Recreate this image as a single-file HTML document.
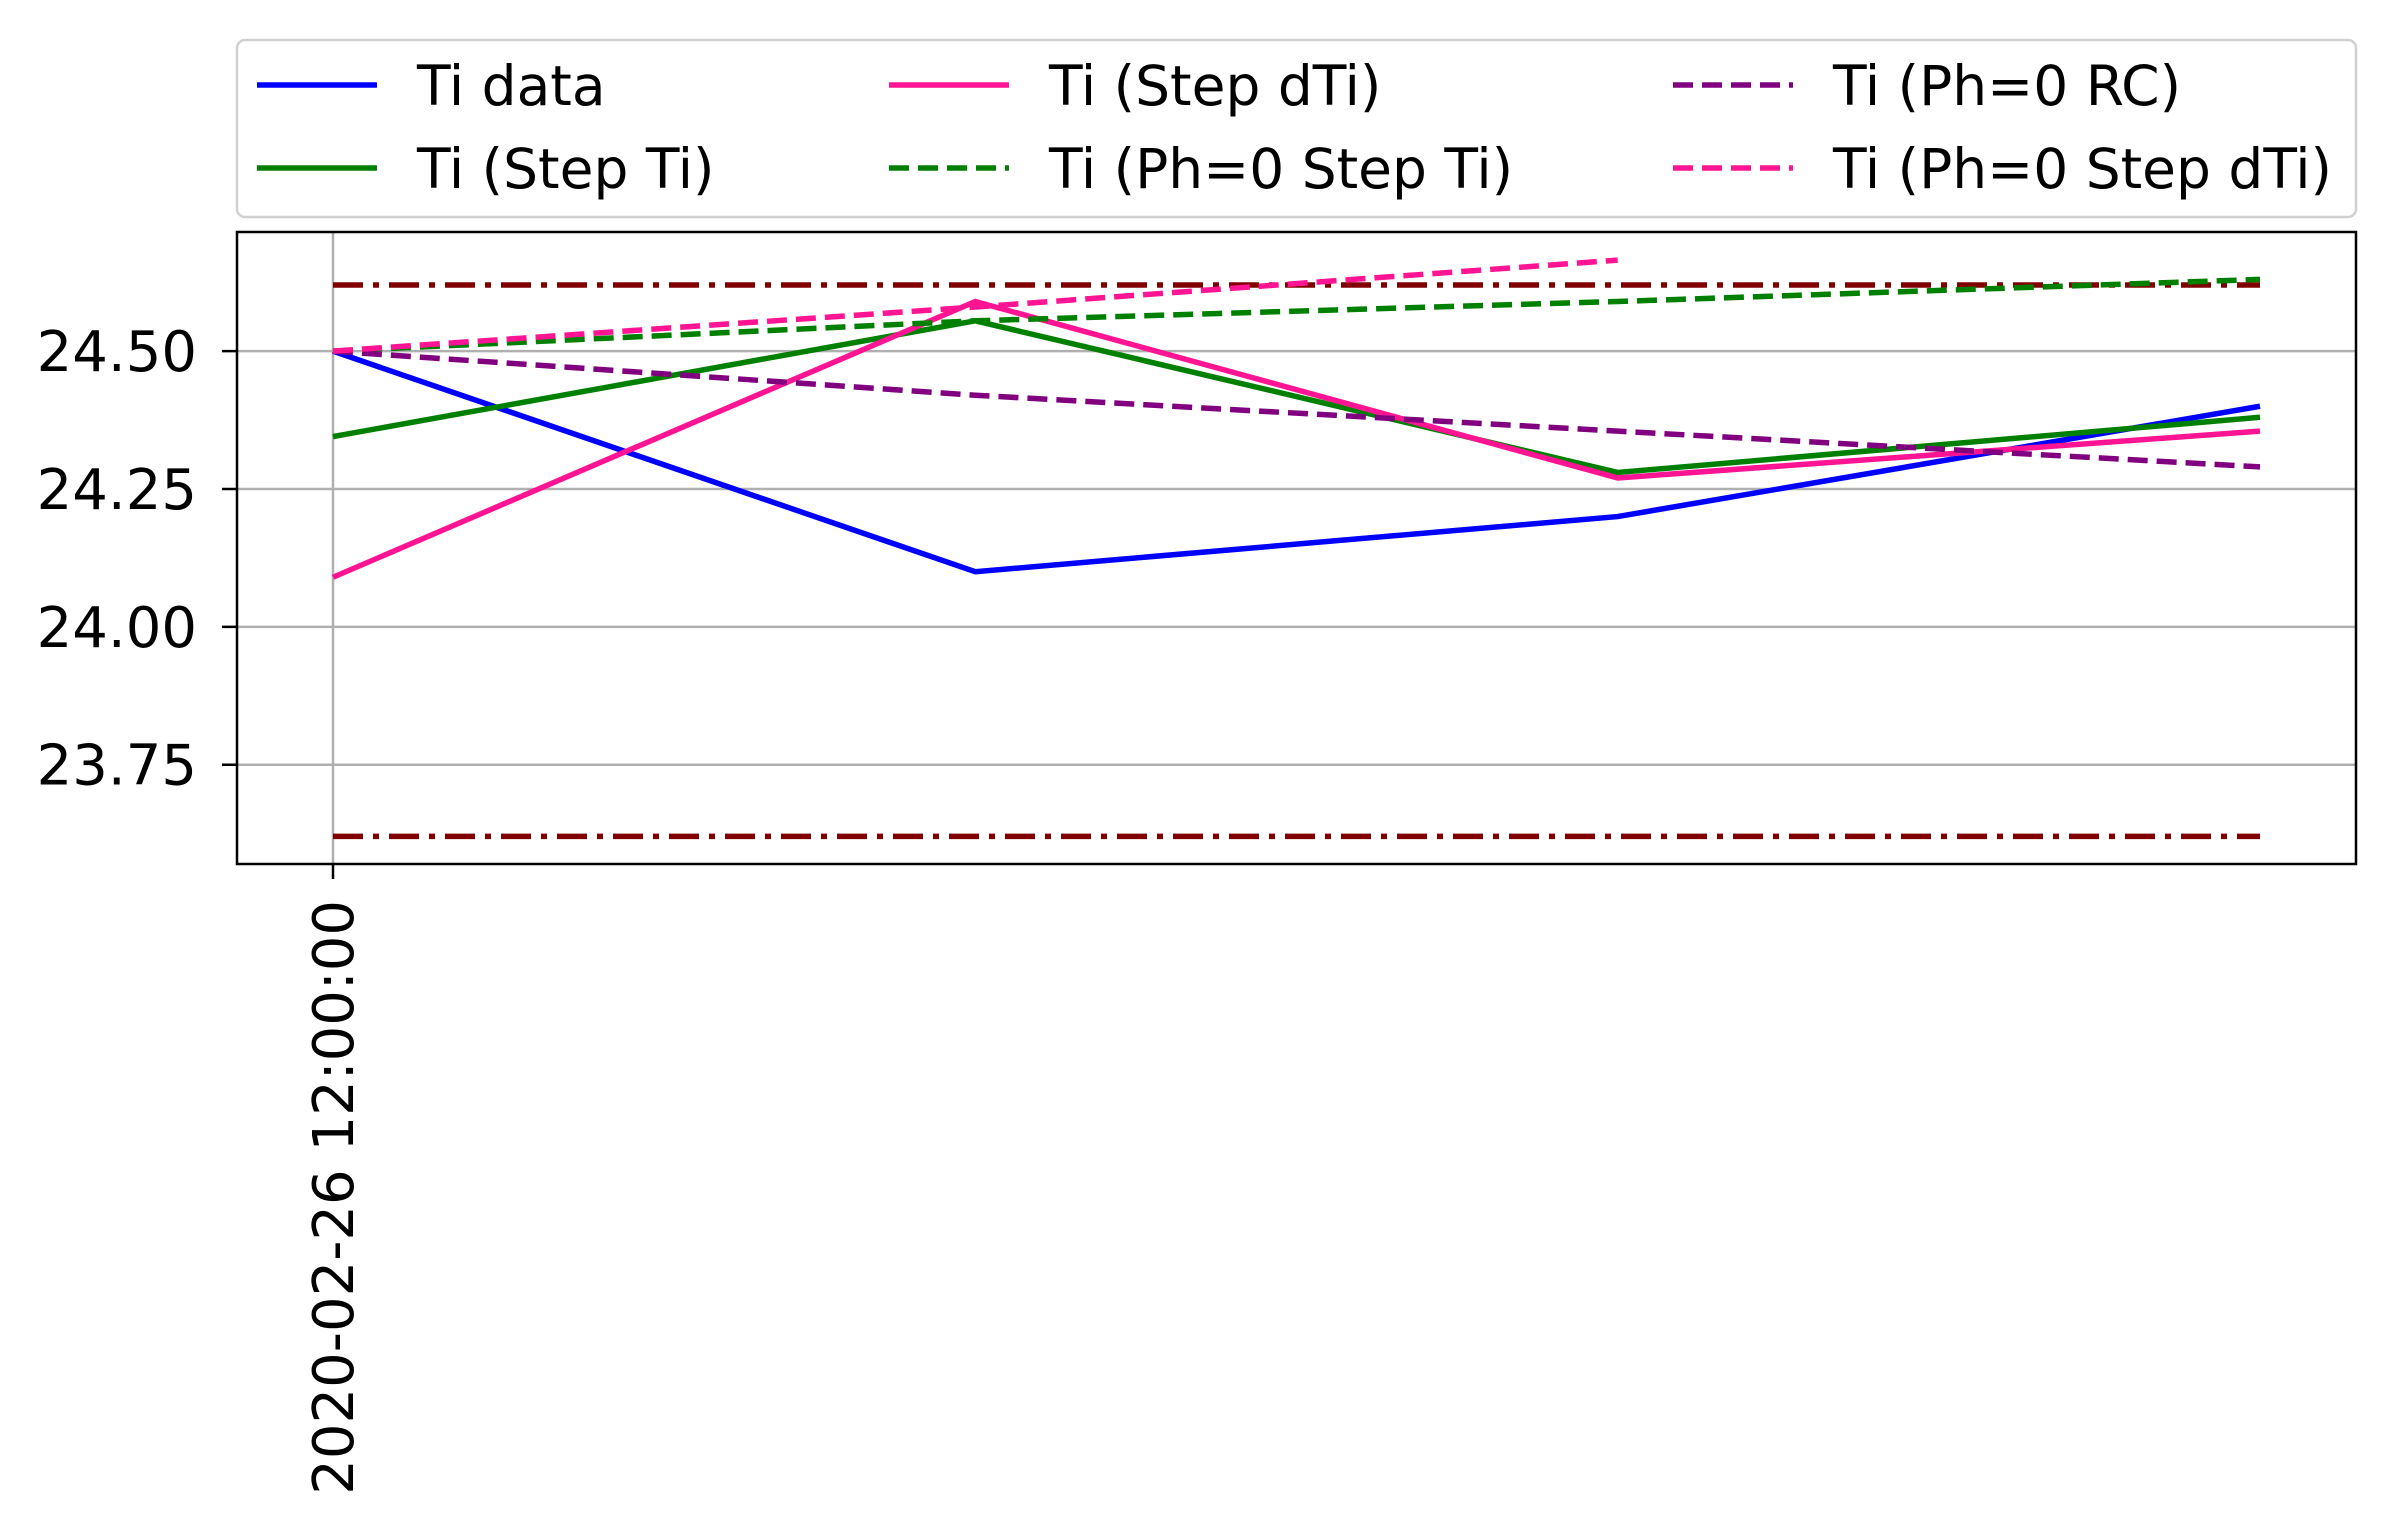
<!DOCTYPE html>
<html><head><meta charset="utf-8"><style>
html,body{margin:0;padding:0;background:#fff;}
svg{display:block;font-family:"DejaVu Sans","Liberation Sans",sans-serif;}
</style></head><body>
<svg id="chart" width="2394" height="1536" viewBox="0 0 2394 1536" xmlns="http://www.w3.org/2000/svg">
<rect width="2394" height="1536" fill="#fff"/>
<g id="grid"></g>
<g id="series"></g>
<rect x="237" y="232" width="2119" height="632" fill="none" stroke="#000" stroke-width="2.5"/>
<g id="axes"></g>
<g id="legend"></g>
</svg>
<script>
const categories = ["t0","t1","t2","t3"];
const tiData = [24.50, 24.10, 24.20, 24.40];
const stepTi = [24.345, 24.555, 24.28, 24.38];
const stepDTi = [24.09, 24.59, 24.27, 24.355];
const ph0StepTi = [24.50, 24.555, 24.59, 24.63];
const ph0RC = [24.50, 24.42, 24.355, 24.29];
const ph0StepDTi = [24.50, 24.58, 24.665];
const upperBound = [24.62, 24.62];
const lowerBound = [23.62, 23.62];
const yTicks = [23.75, 24.00, 24.25, 24.50];
const yTickLabels = ["23.75","24.00","24.25","24.50"];
const xTickLabels = ["2020-02-26 12:00:00"];

const NS="http://www.w3.org/2000/svg";
const L=237,R=2356,T=232,B=864;
const yMin=23.57,yMax=24.716;
const x0=333,x3=2260;
function xs(i){return x0+(x3-x0)*i/(categories.length-1);}
function ys(v){return B-(v-yMin)/(yMax-yMin)*(B-T);}
function mk(tag,attrs,parent){const e=document.createElementNS(NS,tag);for(const k in attrs)e.setAttribute(k,attrs[k]);parent.appendChild(e);return e;}
const grid=document.getElementById('grid'),series=document.getElementById('series'),axes=document.getElementById('axes'),legend=document.getElementById('legend');

yTicks.forEach((v,i)=>{
  const gl=mk('line',{x1:L,x2:R,y1:ys(v),y2:ys(v),stroke:'#b0b0b0','stroke-width':2.5},grid);
  
  
  const tk=mk('line',{x1:L-15,x2:L,y1:ys(v),y2:ys(v),stroke:'#000','stroke-width':2.5},axes);
  
  
  const t=mk('text',{x:L-40,y:ys(v)+20,'text-anchor':'end','font-size':56},axes);
  t.textContent=yTickLabels[i];
  
  
});
const vg=mk('line',{x1:xs(0),x2:xs(0),y1:T,y2:B,stroke:'#b0b0b0','stroke-width':2.5},grid);


const xt=mk('line',{x1:xs(0),x2:xs(0),y1:B,y2:B+15,stroke:'#000','stroke-width':2.5},axes);


const xl=mk('text',{x:0,y:0,'text-anchor':'end','font-size':56,transform:`translate(${xs(0)+20},${B+36}) rotate(-90)`},axes);
xl.textContent=xTickLabels[0];



function line(vals,color,dash,name,xsFn){
  const pts=vals.map((v,i)=>(xsFn?xsFn(i):xs(i))+','+ys(v)).join(' ');
  const p=mk('polyline',{points:pts,fill:'none',stroke:color,'stroke-width':5.5,'stroke-dasharray':dash||'none'},series);
  
  
}
const bx=i=>i===0?xs(0):xs(3);
line(upperBound,'#800000','30 10 6 10','upper-bound-line',bx);
line(lowerBound,'#800000','30 10 6 10','lower-bound-line',bx);
line(tiData,'#0000ff',null,'ti-data-line');
line(stepTi,'#008000',null,'ti-step-ti-line');
line(stepDTi,'#ff1493',null,'ti-step-dti-line');
line(ph0StepTi,'#008000','20 9','ti-ph0-step-ti-line');
line(ph0RC,'#800080','20 9','ti-ph0-rc-line');
line(ph0StepDTi,'#ff1493','20 9','ti-ph0-step-dti-line');

const lb=mk('rect',{x:237,y:40,width:2119,height:177,rx:8,fill:'#fff',stroke:'#d0d0d0','stroke-width':2.5},legend);


const entries=[
 ['Ti data','#0000ff',null,0,0],['Ti (Step Ti)','#008000',null,0,1],
 ['Ti (Step dTi)','#ff1493',null,1,0],['Ti (Ph=0 Step Ti)','#008000','20 9',1,1],
 ['Ti (Ph=0 RC)','#800080','20 9',2,0],['Ti (Ph=0 Step dTi)','#ff1493','20 9',2,1]];
const colX=[257,889,1673],rowY=[85,168];
entries.forEach(e=>{
  const x=colX[e[3]],y=rowY[e[4]];
  const g=mk('g',{},legend);
  
  
  mk('line',{x1:x,x2:x+120,y1:y,y2:y,stroke:e[1],'stroke-width':5.5,'stroke-dasharray':e[2]||'none'},g);
  const t=mk('text',{x:x+160,y:y+20,'font-size':55},g);
  t.textContent=e[0];
});
</script>
</body></html>
